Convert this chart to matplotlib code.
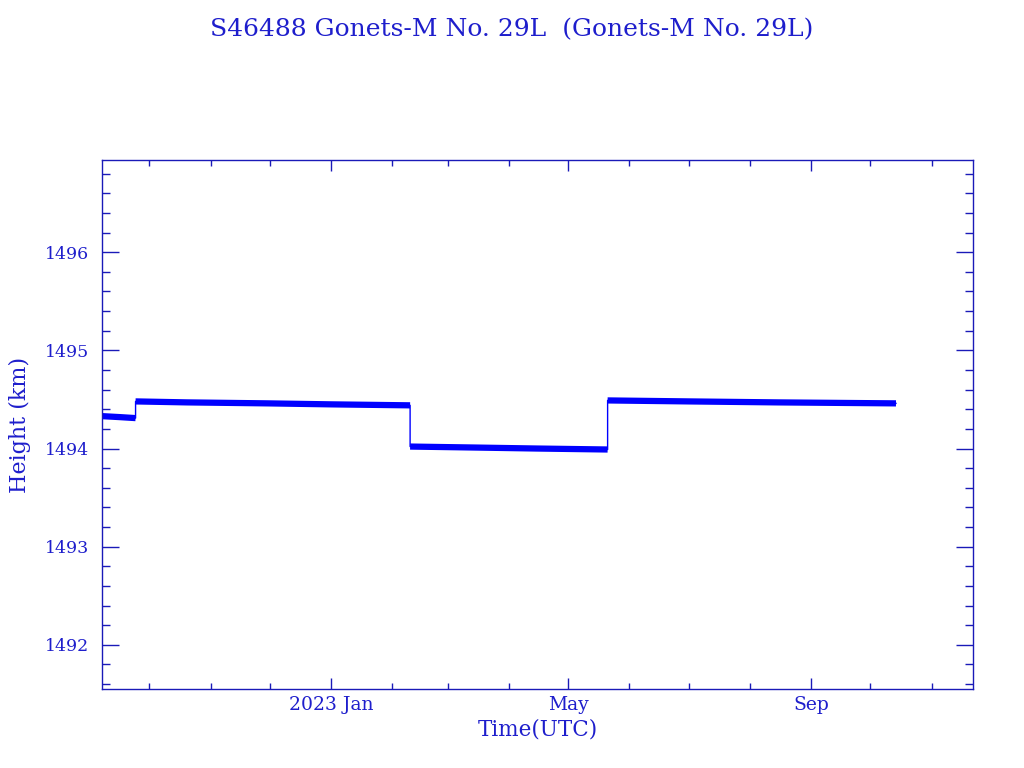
import matplotlib
matplotlib.use("Agg")
import matplotlib.pyplot as plt
import matplotlib.dates as mdates
import numpy as np
import pandas as pd

title = "S46488 Gonets-M No. 29L  (Gonets-M No. 29L)"

seg1_dates = ["2022-09-07", "2022-09-16", "2022-09-24"]
seg1_h = [1494.33, 1494.32, 1494.31]
seg2_dates = ["2022-09-24", "2022-10-20", "2022-11-30", "2023-01-01", "2023-02-10"]
seg2_h = [1494.48, 1494.47, 1494.46, 1494.45, 1494.44]
seg3_dates = ["2023-02-10", "2023-03-15", "2023-04-15", "2023-05-21"]
seg3_h = [1494.02, 1494.01, 1494.00, 1493.99]
seg4_dates = ["2023-05-21", "2023-07-01", "2023-08-15", "2023-10-14"]
seg4_h = [1494.49, 1494.48, 1494.47, 1494.46]

xlim = ["2022-09-07", "2023-11-22"]
ylim = [1491.55, 1496.94]
xtick_dates = ["2023-01-01", "2023-05-01", "2023-09-01"]
xtick_labels = ["2023 Jan", "May", "Sep"]

axcol = "#1a1ab8"
textcol = "#1e1ecc"
datacol = "#0000ff"
plt.rcParams['font.family'] = ['DejaVu Serif']

fig = plt.figure(figsize=(10.24, 7.68), dpi=100)
ax = fig.add_axes([0.0996, 0.1029, 0.8506, 0.6888])

segs = [(seg1_dates, seg1_h), (seg2_dates, seg2_h), (seg3_dates, seg3_h), (seg4_dates, seg4_h)]
all_d = []
all_h = []
for d, h in segs:
    dd = pd.to_datetime(d)
    all_d.extend(list(dd))
    all_h.extend(h)
    ax.plot(dd, h, color=datacol, lw=4.5, solid_capstyle='butt')
ax.plot(all_d, all_h, color=datacol, lw=1.0)

ax.set_xlim(pd.to_datetime(xlim[0]), pd.to_datetime(xlim[1]))
ax.set_ylim(*ylim)
ax.set_xticks(pd.to_datetime(xtick_dates))
ax.set_xticklabels(xtick_labels)
ax.xaxis.set_minor_locator(mdates.MonthLocator())
ax.set_yticks([1492, 1493, 1494, 1495, 1496])
ax.set_yticklabels(["1492", "1493", "1494", "1495", "1496"])
ax.yaxis.set_minor_locator(plt.MultipleLocator(0.2))

for s in ax.spines.values():
    s.set_color(axcol)
    s.set_linewidth(1)
ax.tick_params(which='both', direction='in', top=True, right=True, colors=axcol, labelcolor=textcol, width=1)
ax.tick_params(axis='y', which='major', length=12, labelsize=12.5, pad=9)
ax.tick_params(axis='y', which='minor', length=6)
ax.tick_params(axis='x', which='major', length=8, labelsize=13.5, pad=5)
ax.tick_params(axis='x', which='minor', length=4)

ax.set_xlabel("Time(UTC)", color=textcol, fontsize=15.5, labelpad=3)
ax.set_ylabel("Height (km)", color=textcol, fontsize=16, labelpad=10)
fig.text(0.5, 0.961, title, color=textcol, fontsize=18, ha='center', va='center')

fig.savefig("out.png", dpi=100)
